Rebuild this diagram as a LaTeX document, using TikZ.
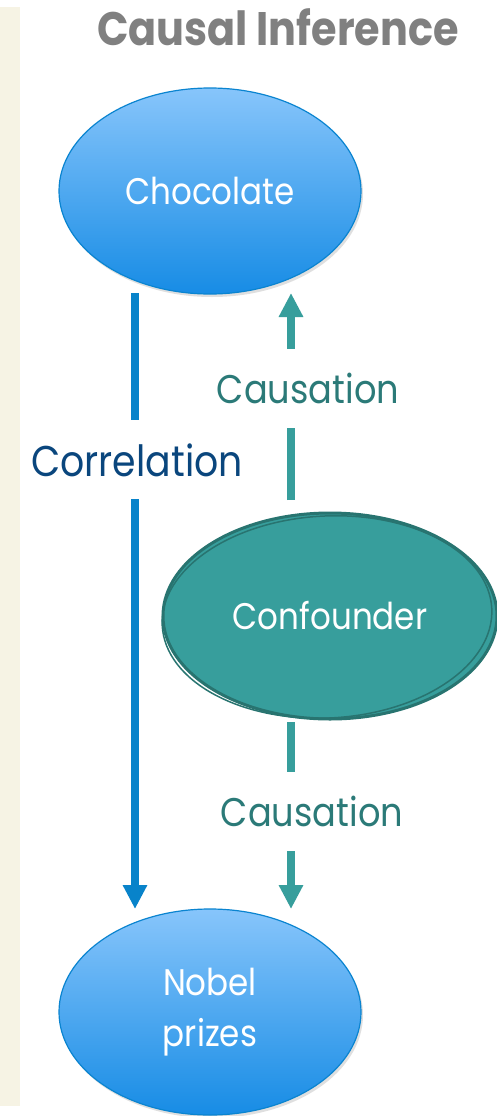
\documentclass[tikz,border=0pt]{standalone}
\usepackage{fontspec}
\setmainfont{Poppins}[FakeStretch=0.88]
\usetikzlibrary{arrows.meta,shapes.geometric,shadows}
\definecolor{strip}{RGB}{246,243,228}
\definecolor{titlegray}{RGB}{128,128,128}
\definecolor{bluetop}{RGB}{135,197,251}
\definecolor{bluebot}{RGB}{23,140,229}
\definecolor{blueedge}{RGB}{10,132,208}
\definecolor{corline}{RGB}{8,131,202}
\definecolor{cortext}{RGB}{10,70,125}
\definecolor{teal}{RGB}{55,158,156}
\definecolor{tealtext}{RGB}{43,122,120}
\definecolor{tealedge}{RGB}{40,116,112}
\tikzset{
  bluenode/.style={ellipse, minimum width=302pt, minimum height=206pt, inner sep=0pt,
    top color=bluetop, bottom color=bluebot, draw=blueedge, line width=1.2pt,
    text=white, font=\fontsize{37}{51}\selectfont, align=center,
    drop shadow={shadow xshift=2pt, shadow yshift=-3pt, opacity=0.25}},
  confnode/.style={ellipse, minimum width=334pt, minimum height=206pt, inner sep=0pt,
    fill=teal, draw=tealedge, line width=3pt, text=white, font=\fontsize{37}{40}\selectfont},
  corarrow/.style={draw=corline, line width=7.5pt, -{Triangle[width=23pt,length=24pt]}},
  causarrow/.style={draw=teal, line width=8pt, -{Triangle[width=23pt,length=24pt]}},
  corlabel/.style={fill=white, text=cortext, font=\fontsize{43}{46}\selectfont, inner xsep=2pt, inner ysep=0pt, minimum height=79pt},
  causlabel/.style={fill=white, text=tealtext, font=\fontsize{40}{44}\selectfont, inner xsep=2pt, inner ysep=0pt, minimum height=79pt},
}
\begin{document}
\begin{tikzpicture}[x=1pt,y=-1pt]
\useasboundingbox (0,0) rectangle (496,1116);
\fill[white] (0,0) rectangle (496,1116);
\fill[strip] (0,7) rectangle (20,1106);
\node[font=\fontsize{47}{52}\selectfont\bfseries, text=titlegray] (title) at (278,27) {Causal Inference};
\node[bluenode] (choc) at (210,191) {Chocolate};
\node[bluenode] (nobel) at (210,1012) {Nobel\\prizes};
\node[confnode] (conf) at (330,616) {Confounder};
\draw[tealedge, line width=1.5pt] (327,617) ellipse [x radius=165pt, y radius=101pt, rotate=3];
\coordinate (corstart) at (135,293);
\coordinate (corend) at (135,909);
\coordinate (c1start) at (291,500);
\coordinate (c1end) at (291,293);
\coordinate (c2start) at (291,722);
\coordinate (c2end) at (291,909);
\draw[corarrow] (corstart) -- node[pos=0.271, xshift=2pt, corlabel] (corlab) {Correlation} (corend);
\draw[causarrow] (c1start) -- node[pos=0.54, xshift=17pt, causlabel] (c1lab) {Causation} (c1end);
\draw[causarrow] (c2start) -- node[pos=0.476, xshift=21pt, causlabel] (c2lab) {Causation} (c2end);
\end{tikzpicture}
\end{document}
